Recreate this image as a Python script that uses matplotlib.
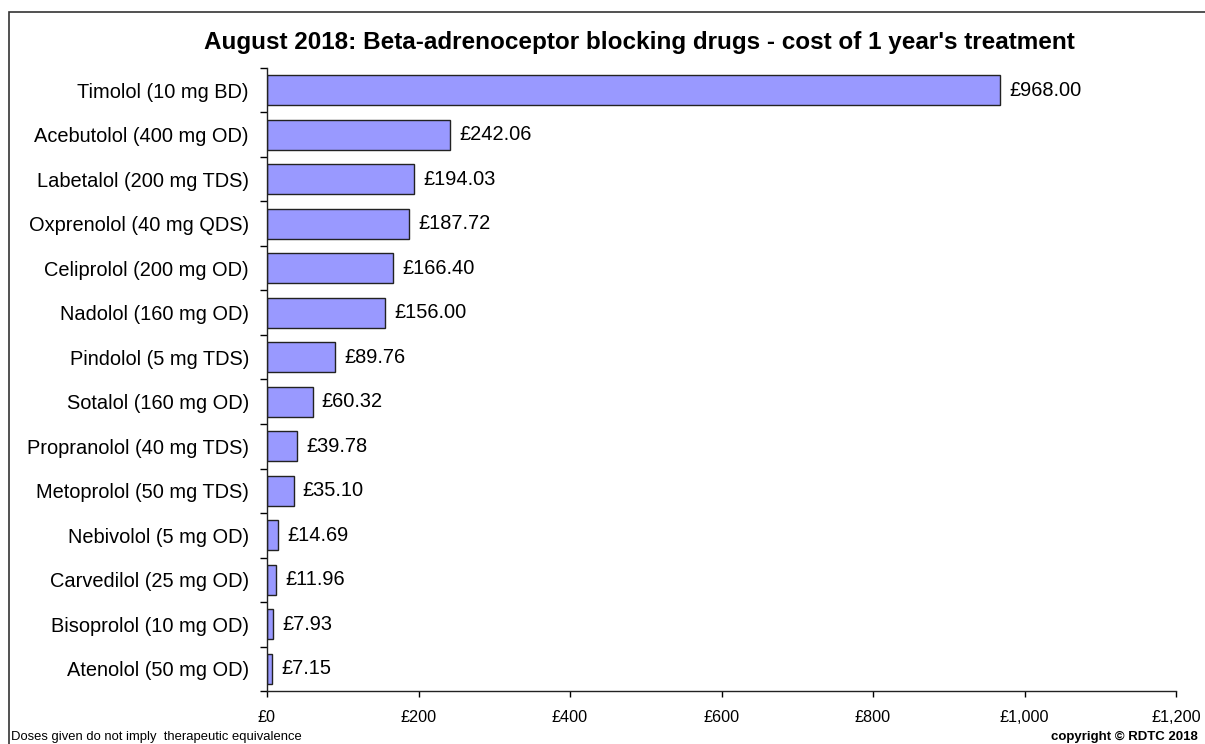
import numpy as np
import matplotlib
matplotlib.use("Agg")
import matplotlib.pyplot as plt
from matplotlib.patches import Rectangle
from matplotlib.ticker import FuncFormatter

plt.rcParams['font.family'] = ['Liberation Sans', 'DejaVu Sans']

# data (top to bottom as in the chart)
drugs = ['Timolol (10 mg BD)', 'Acebutolol (400 mg OD)', 'Labetalol (200 mg TDS)',
         'Oxprenolol (40 mg QDS)', 'Celiprolol (200 mg OD)', 'Nadolol (160 mg OD)',
         'Pindolol (5 mg TDS)', 'Sotalol (160 mg OD)', 'Propranolol (40 mg TDS)',
         'Metoprolol (50 mg TDS)', 'Nebivolol (5 mg OD)', 'Carvedilol (25 mg OD)',
         'Bisoprolol (10 mg OD)', 'Atenolol (50 mg OD)']
costs = [968.00, 242.06, 194.03, 187.72, 166.40, 156.00, 89.76, 60.32,
         39.78, 35.10, 14.69, 11.96, 7.93, 7.15]
x_ticks = [0, 200, 400, 600, 800, 1000, 1200]

W, H = 1205, 744
fig = plt.figure(figsize=(W / 100, H / 100), dpi=100)
ax = fig.add_axes([267 / W, 1 - 691 / H, (1176 - 267) / W, (691 - 68) / H])

n = len(drugs)
y = np.arange(n)[::-1]
ax.barh(y, costs, height=0.68, color='#9999FF', edgecolor='#222222', linewidth=1.0)

for yi, c in zip(y, costs):
    ax.text(c + 12, yi, f'£{c:,.2f}', va='center', ha='left', fontsize=14.4)

ax.set_xlim(0, 1200)
ax.set_ylim(-0.5, n - 0.5)
ax.set_xticks(x_ticks)
ax.xaxis.set_major_formatter(FuncFormatter(lambda v, p: f'£{v:,.0f}'))
ax.tick_params(axis='x', direction='out', length=4, width=1, labelsize=11.7, pad=10)

ax.set_yticks(y)
ax.set_yticklabels(drugs, fontsize=14.4)
ax.set_yticks(np.arange(n + 1) - 0.5, minor=True)
ax.tick_params(axis='y', which='major', length=0, pad=13)
ax.tick_params(axis='y', which='minor', direction='out', length=5, width=1)

for s in ['top', 'right']:
    ax.spines[s].set_visible(False)
for s in ['left', 'bottom']:
    ax.spines[s].set_color('#222222')
    ax.spines[s].set_linewidth(1.0)

fig.text(639 / W, 1 - 43 / H,
         "August 2018: Beta-adrenoceptor blocking drugs - cost of 1 year's treatment",
         ha='center', va='center', fontsize=17.5, fontweight='bold')
fig.text(11 / W, 1 - 740 / H, 'Doses given do not imply  therapeutic equivalence',
         ha='left', va='baseline', fontsize=9.4)
fig.text(1198 / W, 1 - 740 / H, 'copyright © RDTC 2018',
         ha='right', va='baseline', fontsize=9.5, fontweight='bold')

# outer chart border
fig.patches.append(Rectangle((9 / W, -0.05), 1.2, 1 - 12 / H + 0.05,
                             transform=fig.transFigure, fill=False,
                             edgecolor='#333333', linewidth=1.2))

fig.savefig('out.png', dpi=100)
